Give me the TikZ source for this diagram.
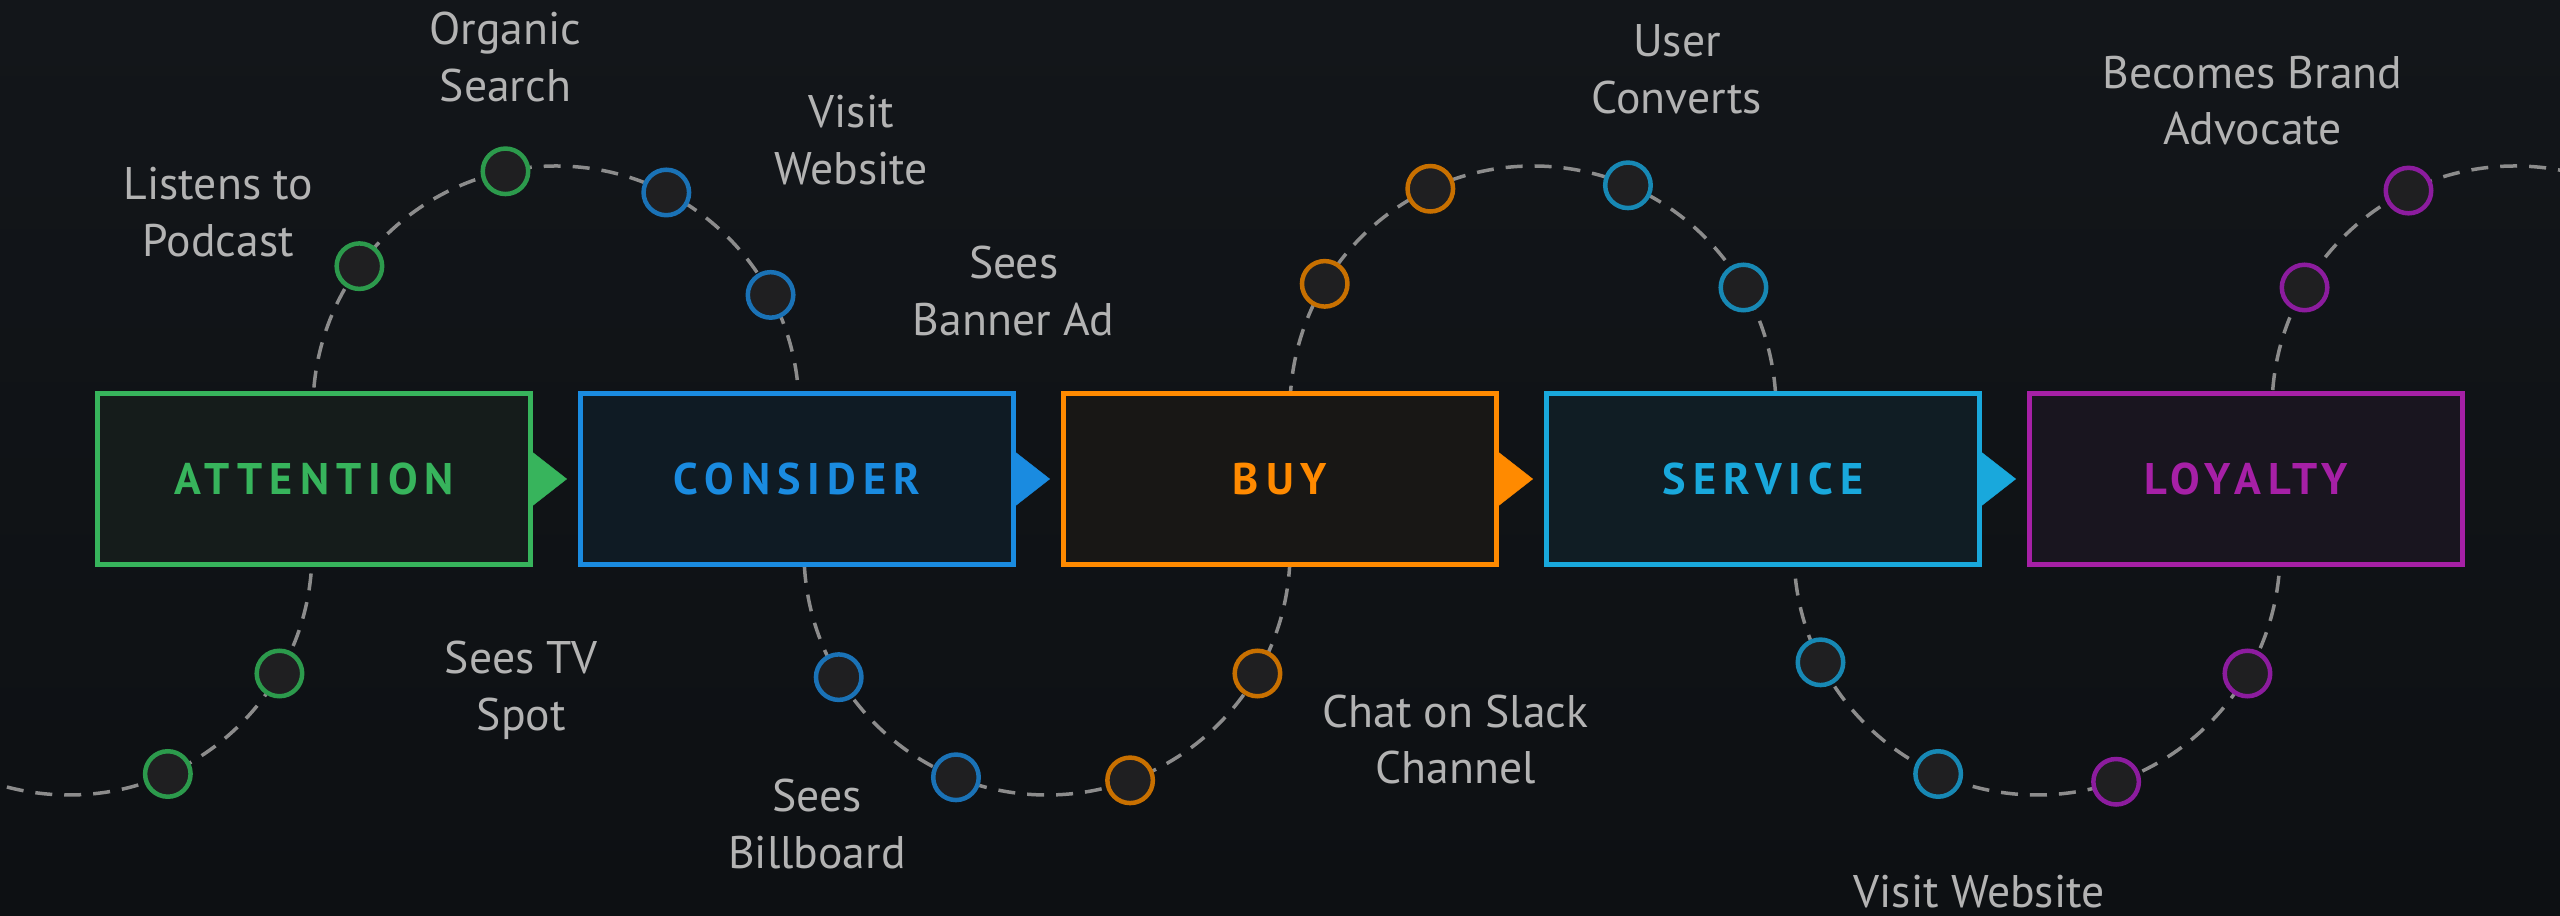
\documentclass[tikz,border=0pt]{standalone}
\usepackage{fontspec}
\setmainfont{PT Sans}
\newfontfamily\stagefont{PT Sans}[LetterSpace=16]
\usetikzlibrary{positioning,calc,arrows.meta}
\definecolor{bgTop}{HTML}{13161A}
\definecolor{bgBot}{HTML}{0D1013}
\definecolor{trailGray}{HTML}{8C8C8C}
\definecolor{dotFill}{HTML}{1F1F21}
\definecolor{labelGray}{HTML}{B3B3B3}
\definecolor{attLine}{HTML}{37B45C}
\definecolor{attFill}{HTML}{151C1B}
\definecolor{attDot}{HTML}{2C9A4C}
\definecolor{conLine}{HTML}{1A8BE0}
\definecolor{conFill}{HTML}{0F1B24}
\definecolor{conDot}{HTML}{1A72B6}
\definecolor{buyLine}{HTML}{FF8A00}
\definecolor{buyFill}{HTML}{181715}
\definecolor{buyDot}{HTML}{C87000}
\definecolor{serLine}{HTML}{19A8DC}
\definecolor{serFill}{HTML}{101D24}
\definecolor{serDot}{HTML}{1788B4}
\definecolor{loyLine}{HTML}{A620A6}
\definecolor{loyFill}{HTML}{19151F}
\definecolor{loyDot}{HTML}{8C1C9E}

\begin{document}
\begin{tikzpicture}[
        stage/.style={rectangle, draw=#1Line, fill=#1Fill, text=#1Line, line width=0.05cm,
            minimum width=4.33cm, minimum height=1.71cm,
            font=\stagefont\bfseries\fontsize{12.6pt}{15pt}\selectfont},
        touch/.style={circle, draw=#1Dot, fill=dotFill, line width=0.045cm,
            minimum size=0.455cm, inner sep=0pt},
        note/.style={text=labelGray, align=center, font=\fontsize{13pt}{16.2pt}\selectfont},
        trail/.style={draw=trailGray, line width=0.035cm, dash pattern=on 0.17cm off 0.12cm},
        tab/.style={draw=#1Line, line width=0.1pt, -{Triangle[length=0.34cm, width=0.53cm]},
            shorten >=0.11cm}
    ]
            \clip (0,0) rectangle (25.6,-9.16);
            \shade[top color=bgTop, bottom color=bgBot] (0,0) rectangle (25.6,-9.16);

            % centres of the half circles
            \coordinate (c0) at (0.69,-5.52);
            \coordinate (c1) at (5.56,-4.09);
            \coordinate (c2) at (10.47,-5.52);
            \coordinate (c3) at (15.33,-4.09);
            \coordinate (c4) at (20.37,-5.52);
            \coordinate (c5) at (25.15,-4.09);
            \def\rr{2.43}

            \draw[trail] ($(c0)+(180:\rr)$) arc[start angle=180, end angle=360, radius=\rr]
                -- ($(c1)+(180:\rr)$) arc[start angle=180, end angle=0, radius=\rr]
                -- ($(c2)+(180:\rr)$) arc[start angle=180, end angle=360, radius=\rr]
                -- ($(c3)+(180:\rr)$) arc[start angle=180, end angle=0, radius=\rr]
                -- ($(c4)+(180:\rr)$) arc[start angle=180, end angle=360, radius=\rr]
                -- ($(c5)+(180:\rr)$) arc[start angle=180, end angle=0, radius=\rr];

            \node[touch=att] (1) at ($(c0)+(-66:\rr)$) {};
            \node[touch=att] (2) at ($(c0)+(-30:\rr)$) {};
            \node[touch=att] (3) at ($(c1)+(144:\rr)$) {};
            \node[touch=att] (4) at ($(c1)+(102:\rr)$) {};
            \node[touch=con] (5) at ($(c1)+(63:\rr)$) {};
            \node[touch=con] (6) at ($(c1)+(28:\rr)$) {};
            \node[touch=con] (7) at ($(c2)+(-149:\rr)$) {};
            \node[touch=con] (8) at ($(c2)+(-112:\rr)$) {};
            \node[touch=buy] (9) at ($(c2)+(-70:\rr)$) {};
            \node[touch=buy] (10) at ($(c2)+(-30:\rr)$) {};
            \node[touch=buy] (11) at ($(c3)+(149:\rr)$) {};
            \node[touch=buy] (12) at ($(c3)+(115:\rr)$) {};
            \node[touch=ser] (13) at ($(c3)+(67:\rr)$) {};
            \node[touch=ser] (14) at ($(c3)+(30:\rr)$) {};
            \node[touch=ser] (15) at ($(c4)+(-153:\rr)$) {};
            \node[touch=ser] (16) at ($(c4)+(-114:\rr)$) {};
            \node[touch=loy] (17) at ($(c4)+(-71:\rr)$) {};
            \node[touch=loy] (18) at ($(c4)+(-30:\rr)$) {};
            \node[touch=loy] (19) at ($(c5)+(150:\rr)$) {};
            \node[touch=loy] (20) at ($(c5)+(116:\rr)$) {};

            \node[stage=att] (a) at (3.14,-4.79) {ATTENTION};
            \node[stage=con] (b) [right = 0.45cm of a] {CONSIDER};
            \node[stage=buy] (c) [right = 0.45cm of b] {BUY};
            \node[stage=ser] (d) [right = 0.45cm of c] {SERVICE};
            \node[stage=loy] (e) [right = 0.45cm of d] {LOYALTY};

            \foreach \from/\to/\hue in {a/b/att, b/c/con, c/d/buy, d/e/ser}
                \draw[tab=\hue] (\from.east) -- (\to.west);

            \node[note] (l1) at ($(3)+(-1.41,0.54)$) {Listens to\\Podcast};
            \node[note] (l2) at ($(4)+(0,1.14)$) {Organic\\Search};
            \node[note] (l3) at ($(5)+(1.85,0.52)$) {Visit\\Website};
            \node[note] (l4) at ($(11)+(-3.11,-0.07)$) {Sees\\Banner Ad};
            \node[note] (l5) at ($(13)+(0.49,1.16)$) {User\\Converts};
            \node[note] (l6) at ($(20)+(-1.56,0.90)$) {Becomes Brand\\Advocate};
            \node[note] (l7) at ($(2)+(2.42,-0.17)$) {Sees TV\\Spot};
            \node[note] (l8) at ($(8)+(-1.39,-0.47)$) {Sees\\Billboard};
            \node[note] (l9) at ($(10)+(1.98,-0.66)$) {Chat on Slack\\Channel};
            \node[note] (l10) at ($(16)+(0.41,-1.18)$) {Visit Website};
        \end{tikzpicture}
\end{document}
